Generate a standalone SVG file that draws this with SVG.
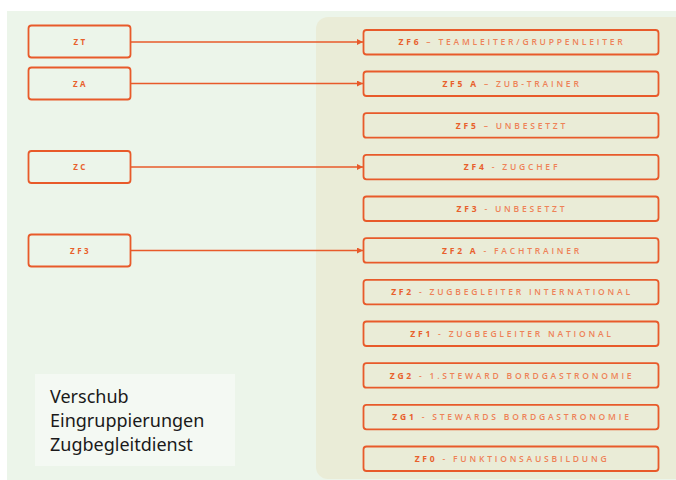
<svg xmlns="http://www.w3.org/2000/svg" width="676" height="480" viewBox="0 0 676 480">
<style>
.box{fill:none;stroke:#E85A2A;stroke-width:1.8}
.lt{font-family:"Open Sans","Noto Sans",sans-serif;font-size:8px;font-weight:700;letter-spacing:2.4px;fill:#E8602C;text-anchor:middle}
.rt{font-family:"Open Sans","Noto Sans",sans-serif;font-size:8.5px;font-weight:600;letter-spacing:2.8px;fill:#EE8258;text-anchor:middle}
.rt .b{font-weight:700;fill:#E8602C}
.ln{stroke:#E85A2A;stroke-width:1.6;fill:none}
.title{font-family:"Noto Sans","Open Sans",sans-serif;font-size:18px;fill:#1a1a1a}
</style>
<defs>
<marker id="ah" markerWidth="6" markerHeight="6" refX="6" refY="3" orient="auto" markerUnits="userSpaceOnUse">
<path d="M0,0 L6,3 L0,6 Z" fill="#E85A2A"/>
</marker>
</defs>
<rect x="0" y="0" width="676" height="480" fill="#ffffff"/>
<rect x="7" y="11" width="669" height="469" fill="#ECF5EA"/>
<path d="M328,17 H676 V479 H328 A12,12 0 0 1 316,467 V29 A12,12 0 0 1 328,17 Z" fill="#EAECD7"/>
<g id="title">
<rect x="35" y="374" width="200" height="92" fill="#F4F9F3"/>
<text class="title" x="50" y="403">Verschub</text>
<text class="title" x="50" y="427">Eingruppierungen</text>
<text class="title" x="50" y="451">Zugbegleitdienst</text>
</g>
<g id="connectors">
<line class="ln" x1="131" y1="42" x2="363" y2="42" marker-end="url(#ah)"/>
<line class="ln" x1="131" y1="83.5" x2="363" y2="83.5" marker-end="url(#ah)"/>
<line class="ln" x1="131" y1="167" x2="363" y2="167" marker-end="url(#ah)"/>
<line class="ln" x1="131" y1="250.5" x2="363" y2="250.5" marker-end="url(#ah)"/>
</g>
<g id="zt"><rect class="box" x="28.5" y="25.5" width="102" height="32" rx="3"/><text class="lt" x="80.5" y="45">ZT</text></g>
<g id="za"><rect class="box" x="28.5" y="67.5" width="102" height="32" rx="3"/><text class="lt" x="80.5" y="86.5">ZA</text></g>
<g id="zc"><rect class="box" x="28.5" y="151" width="102" height="32" rx="3"/><text class="lt" x="80.5" y="170">ZC</text></g>
<g id="zf3l"><rect class="box" x="28.5" y="234.5" width="102" height="32" rx="3"/><text class="lt" x="80.5" y="253.5">ZF3</text></g>
<g id="zf6"><rect class="box" x="363.5" y="30" width="295" height="24.5" rx="3"/><text class="rt" x="512" y="45.3"><tspan class="b">ZF6</tspan> – TEAMLEITER/GRUPPENLEITER</text></g>
<g id="zf5a"><rect class="box" x="363.5" y="71.5" width="295" height="24.5" rx="3"/><text class="rt" x="512" y="86.8"><tspan class="b">ZF5 A</tspan> – ZUB-TRAINER</text></g>
<g id="zf5"><rect class="box" x="363.5" y="113.2" width="295" height="24.5" rx="3"/><text class="rt" x="512" y="128.5"><tspan class="b">ZF5</tspan>  – UNBESETZT</text></g>
<g id="zf4"><rect class="box" x="363.5" y="154.8" width="295" height="24.5" rx="3"/><text class="rt" x="512" y="170.1"><tspan class="b">ZF4</tspan> - ZUGCHEF</text></g>
<g id="zf3"><rect class="box" x="363.5" y="196.5" width="295" height="24.5" rx="3"/><text class="rt" x="512" y="211.8"><tspan class="b">ZF3</tspan> - UNBESETZT</text></g>
<g id="zf2a"><rect class="box" x="363.5" y="238.2" width="295" height="24.5" rx="3"/><text class="rt" x="512" y="253.5"><tspan class="b">ZF2 A</tspan> - FACHTRAINER</text></g>
<g id="zf2"><rect class="box" x="363.5" y="279.8" width="295" height="24.5" rx="3"/><text class="rt" x="512" y="295.1"><tspan class="b">ZF2</tspan> - ZUGBEGLEITER INTERNATIONAL</text></g>
<g id="zf1"><rect class="box" x="363.5" y="321.5" width="295" height="24.5" rx="3"/><text class="rt" x="512" y="336.8"><tspan class="b">ZF1</tspan> - ZUGBEGLEITER NATIONAL</text></g>
<g id="zg2"><rect class="box" x="363.5" y="363.2" width="295" height="24.5" rx="3"/><text class="rt" x="512" y="378.5"><tspan class="b">ZG2</tspan> - 1.STEWARD BORDGASTRONOMIE</text></g>
<g id="zg1"><rect class="box" x="363.5" y="404.8" width="295" height="24.5" rx="3"/><text class="rt" x="512" y="420.1"><tspan class="b">ZG1</tspan> - STEWARDS BORDGASTRONOMIE</text></g>
<g id="zf0"><rect class="box" x="363.5" y="446.5" width="295" height="24.5" rx="3"/><text class="rt" x="512" y="461.8"><tspan class="b">ZF0</tspan> - FUNKTIONSAUSBILDUNG</text></g>
</svg>
